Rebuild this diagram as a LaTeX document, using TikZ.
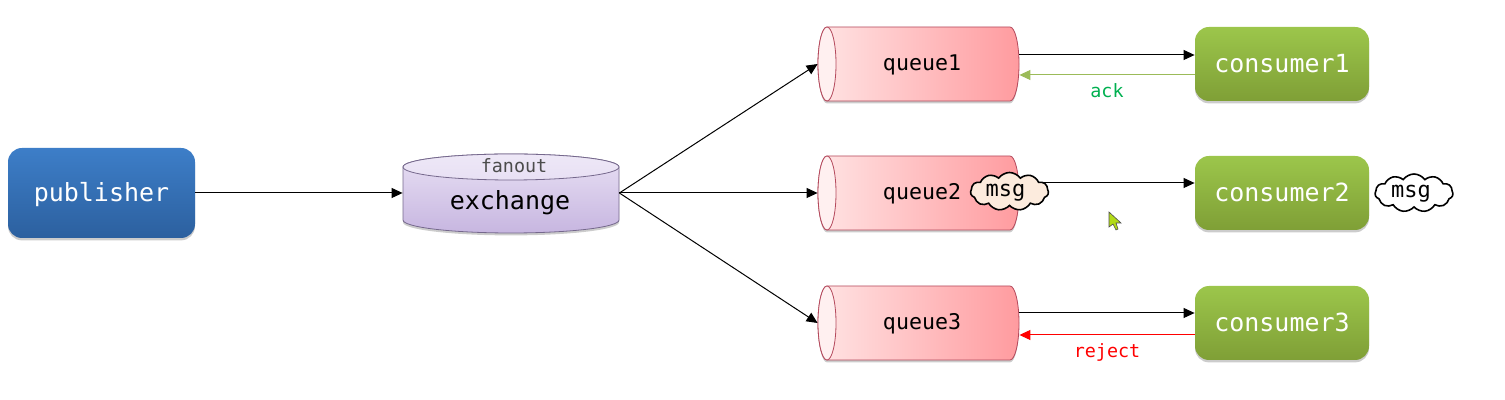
\documentclass[tikz,border=0pt]{standalone}
\usepackage{fontspec}
\setmonofont{DejaVu Sans Mono}
\usetikzlibrary{quotes}
\usetikzlibrary{arrows.meta}
\usetikzlibrary{shadows}
\usetikzlibrary{shapes.symbols}

\definecolor{pubtop}{HTML}{3D7EC8}
\definecolor{pubbot}{HTML}{2C609F}
\definecolor{constop}{HTML}{9CC64B}
\definecolor{consbot}{HTML}{7F9F36}
\definecolor{queueleft}{HTML}{FFE4E4}
\definecolor{queueright}{HTML}{FF9B9F}
\definecolor{queueline}{HTML}{B4495C}
\definecolor{extop}{HTML}{E8E0F4}
\definecolor{exbot}{HTML}{C7B6E0}
\definecolor{exline}{HTML}{75688C}
\definecolor{ackline}{HTML}{9BBB59}
\definecolor{acktext}{HTML}{00B050}
\definecolor{msgfill}{HTML}{FCEBDD}

\tikzset{
  softshadow/.style={drop shadow={shadow xshift=0pt,shadow yshift=-1.2pt,opacity=0.2,fill=black}},
  boxnode/.style={rectangle,rounded corners=7pt,minimum width=87pt,minimum height=37pt,softshadow,
    text=white,font=\ttfamily\fontsize{12.5}{14}\selectfont,inner sep=0pt,text height=10.5pt,text depth=2pt},
  pubnode/.style={boxnode,minimum width=93.5pt,minimum height=45pt,top color=pubtop,bottom color=pubbot},
  consnode/.style={boxnode,top color=constop,bottom color=consbot},
  queuebody/.style={draw=queueline,line width=0.4pt,left color=queueleft,right color=queueright,softshadow},
  queuenode/.style={rectangle,minimum width=100.5pt,minimum height=37pt,inner sep=0pt,text=black,
    text height=9pt,text depth=2pt,font=\ttfamily\fontsize{10.8}{12}\selectfont},
  exbody/.style={draw=exline,line width=0.4pt,top color=extop,bottom color=exbot,softshadow},
  exnode/.style={rectangle,minimum width=108pt,minimum height=39.5pt,inner sep=0pt},
  msgnode/.style={cloud,cloud puffs=11,cloud puff arc=110,aspect=2.4,draw=black,line width=0.8pt,
    minimum width=39pt,minimum height=19pt,inner sep=0pt,text height=7.5pt,text depth=2.5pt,
    font=\ttfamily\fontsize{11}{12}\selectfont},
  flow/.style={-{Triangle[length=5.5pt,width=5pt]},line width=0.5pt,black},
  every edge quotes/.style={font=\ttfamily\fontsize{9.2}{11}\selectfont,auto,inner sep=4pt}
}

\begin{document}
\begin{tikzpicture}[x=0.5pt,y=-0.5pt]
    \useasboundingbox (0,0) rectangle (1505,400);

    \node[pubnode] (publisher) at (101.5, 193) {publisher};

    % exchange drum
    \path[exbody] (403,167) -- (403,220) arc[start angle=180,end angle=0,x radius=108,y radius=13]
      -- (619,167) arc[start angle=0,end angle=-180,x radius=108,y radius=13] -- cycle;
    \draw[exline,line width=0.4pt,top color=white!25!extop,bottom color=extop] (511,167) ellipse [x radius=108,y radius=13];
    \node[exnode] (exchange) at (511, 193) {};
    \node[text=black!70,font=\ttfamily\fontsize{9.2}{11}\selectfont] (fanout) at (514, 166) {fanout};
    \node[font=\ttfamily\fontsize{12.5}{14}\selectfont,text=black] (exlabel) at (510, 202.5) {exchange};

    % queues
    \foreach \n/\y in {1/64,2/193,3/323}{
      \path[queuebody] (827,\y-37) -- (1010,\y-37) arc[start angle=-90,end angle=90,x radius=9,y radius=37]
        -- (827,\y+37) arc[start angle=90,end angle=270,x radius=9,y radius=37] -- cycle;
      \draw[queueline,line width=0.4pt,fill=queueleft!55!white] (827,\y) ellipse [x radius=9,y radius=37];
      \node[queuenode] (queue\n) at (918.5, \y) {\hspace{3.5pt}queue\n};
    }

    \node[consnode] (consumer1) at (1282, 64)  {consumer1};
    \node[consnode] (consumer2) at (1282, 193) {consumer2};
    \node[consnode] (consumer3) at (1282, 323) {consumer3};

    \draw (publisher) edge[flow] (exchange);
    \draw (exchange.east) edge[flow] (queue1.west);
    \draw (exchange.east) edge[flow] (queue2.west);
    \draw (exchange.east) edge[flow] (queue3.west);

    \draw ([yshift=4.5pt]queue1.east) edge[flow] ([yshift=4.5pt]consumer1.west);
    \draw ([yshift=-5.5pt]consumer1.west) edge["ack" {text=acktext,name=acklabel},-{Triangle[length=5.5pt,width=5pt]},line width=0.5pt,ackline] ([yshift=-5.5pt]queue1.east);
    \draw ([yshift=5pt]queue2.east) edge[flow] ([yshift=5pt]consumer2.west);
    \draw ([yshift=5pt]queue3.east) edge[flow] ([yshift=5pt]consumer3.west);
    \draw ([yshift=-6pt]consumer3.west) edge["reject" {text=red,name=rejectlabel},-{Triangle[length=5.5pt,width=5pt]},line width=0.5pt,red] ([yshift=-6pt]queue3.east);

    \node[msgnode,fill=msgfill] (msg1) at (1009.5, 191.5) {msg\kern 4pt};
    \node[msgnode,fill=white]   (msg2) at (1414, 193)   {msg\kern 3pt};

    % pointer
    \draw[fill=yellow!70!green,draw=black!70,line width=0.3pt]
      (1109,212) -- (1109,227) -- (1113,224) -- (1116,230) -- (1118,229) -- (1116,223) -- (1121,223) -- cycle;
  \end{tikzpicture}
\end{document}
